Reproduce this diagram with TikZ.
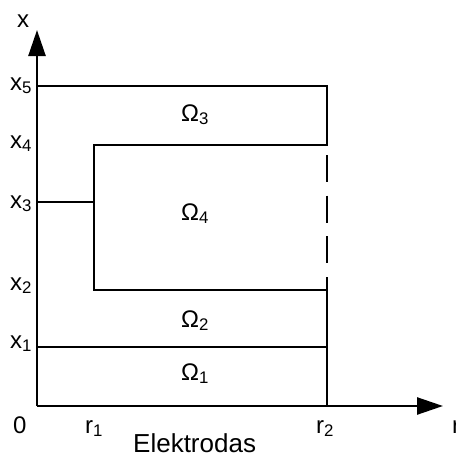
\documentclass[tikz,border=0pt]{standalone}
\usepackage{fontspec}
\setmainfont{Liberation Sans}
\usetikzlibrary{arrows.meta}
\begin{document}
\begin{tikzpicture}[x=1pt,y=-1pt,
  ln/.style={line width=2.5pt},
  axis/.style={line width=2.5pt,-{Triangle[length=26pt,width=17pt]}},
  lbl/.style={anchor=base west,inner sep=0pt,font=\fontsize{24}{26}\selectfont},
  big/.style={anchor=base west,inner sep=0pt,font=\fontsize{26}{28}\selectfont}]
\useasboundingbox (0,0) rectangle (456,453);
% coordinates
\coordinate (O) at (37,406);
\coordinate (Ytip) at (37,30);
\coordinate (Xtip) at (443,406);
\coordinate (A5) at (37,86);
\coordinate (B5) at (327,86);
\coordinate (B4) at (327,145);
\coordinate (C4) at (94,145);
\coordinate (C2) at (94,290);
\coordinate (B2) at (327,290);
\coordinate (A3) at (37,202);
\coordinate (C3) at (94,202);
\coordinate (A1) at (37,347);
\coordinate (B1) at (327,347);
\coordinate (Bs) at (327,277);
\coordinate (Bb) at (327,406);
\coordinate (Dd1) at (327,155);
\coordinate (Dd2) at (327,263);
% axes
\draw[axis] (O) -- (Ytip);
\draw[axis] (O) -- (Xtip);
% regions
\draw[ln] (A5) -- (B5) -- (B4) -- (C4) -- (C2) -- (B2);
\draw[ln] (A3) -- (C3);
\draw[ln] (A1) -- (B1);
\draw[ln] (Bs) -- (Bb);
\draw[ln,dash pattern=on 27pt off 13.5pt] (Dd1) -- (Dd2);
% labels
\node[lbl] (lx) at (17,27) {x};
\node[lbl] (lx5) at (10,90) {x\textsubscript{5}};
\node[lbl] (lx4) at (10,148) {x\textsubscript{4}};
\node[lbl] (lx3) at (10,208) {x\textsubscript{3}};
\node[lbl] (lx2) at (10,290) {x\textsubscript{2}};
\node[lbl] (lx1) at (10,348) {x\textsubscript{1}};
\node[lbl] (l0) at (13,433) {0};
\node[lbl] (lr1) at (85,433) {r\textsubscript{1}};
\node[lbl] (lr2) at (316,433) {r\textsubscript{2}};
\node[lbl] (lr) at (452,433) {r};
\node[big] (lel) at (133,452) {Elektrodas};
\node[lbl] (o3) at (181,121) {Ω\textsubscript{3}};
\node[lbl] (o4) at (181,220) {Ω\textsubscript{4}};
\node[lbl] (o2) at (181,327) {Ω\textsubscript{2}};
\node[lbl] (o1) at (181,380) {Ω\textsubscript{1}};
\end{tikzpicture}
\end{document}
